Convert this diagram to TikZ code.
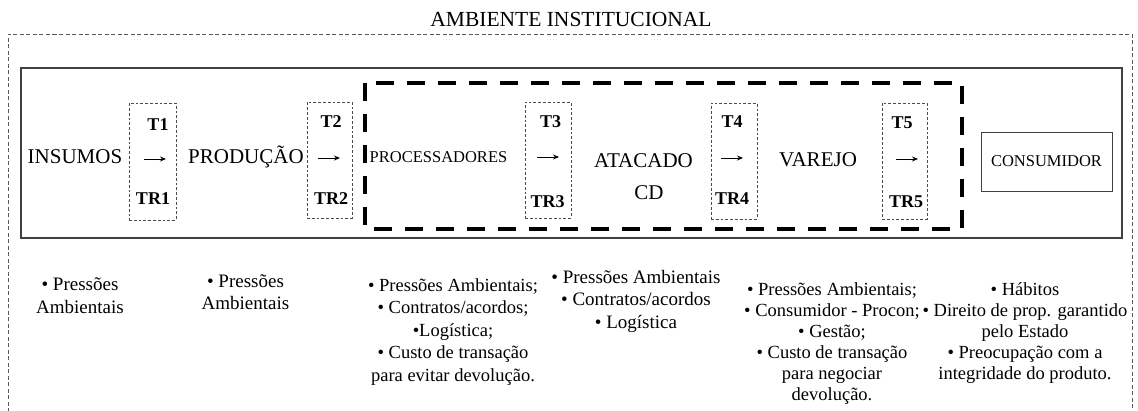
\documentclass[tikz,border=0pt]{standalone}
\usepackage{fontspec}
\setmainfont{Liberation Serif}
\usetikzlibrary{arrows.meta}
\begin{document}
\begin{tikzpicture}[x=1pt,y=-1pt,
  lbl/.style={inner sep=0pt, anchor=base, font=\fontsize{21}{25}\selectfont},
  slbl/.style={inner sep=0pt, anchor=base, font=\fontsize{16.5}{20}\selectfont},
  tlbl/.style={inner sep=0pt, anchor=base, font=\bfseries\fontsize{18}{22}\selectfont},
  tarrow/.style={line width=0.9pt, -{Stealth[length=6pt,width=5pt]}},
  tbox/.style={draw=black!70, dash pattern=on 2.8pt off 2pt, line width=0.8pt, inner sep=0pt},
  note/.style={inner sep=0pt, anchor=base, align=center},
  outerline/.style={draw=black!65, dash pattern=on 4pt off 2.5pt, line width=0.8pt},
  chain/.style={draw=black!75, line width=1.1pt},
  thickdash/.style={draw=black, line width=4pt, dash pattern=on 18pt off 13pt},
]
\useasboundingbox (0,0) rectangle (1138,410);
\fill[white] (0,0) rectangle (1138,410);

% title and institutional environment
\node[lbl, font=\fontsize{21.5}{25}\selectfont] (title) at (571,26) {AMBIENTE INSTITUCIONAL};
\draw[outerline] (8,412) -- (8,34) -- (1132,34) -- (1132,412);

% chain frame
\draw[chain] (21,68) rectangle (1122,238);
% focal segment
\draw[thickdash] (365,83) rectangle (962,229);

% transaction boxes
\node[tbox, minimum width=47pt, minimum height=117pt] (b1) at (152.5,161.5) {};
\node[tbox, minimum width=45pt, minimum height=116pt] (b2) at (329.5,160) {};
\node[tbox, minimum width=46pt, minimum height=116pt] (b3) at (548,160) {};
\node[tbox, minimum width=46pt, minimum height=116pt] (b4) at (734,161) {};
\node[tbox, minimum width=45pt, minimum height=116pt] (b5) at (904.5,161) {};

% stage labels
\node[lbl] (ins) at (75,163) {INSUMOS};
\node[lbl] (prod) at (246,163) {PRODUÇÃO};
\node[slbl] (proc) at (438.5,162) {PROCESSADORES};
\node[lbl] (atac) at (643.5,167) {ATACADO};
\node[lbl] (cd) at (649,199) {CD};
\node[lbl] (var) at (818,166) {VAREJO};
\node[draw=black!75, line width=0.9pt, minimum width=131pt, minimum height=59pt, inner sep=0pt,
      font=\fontsize{16.5}{20}\selectfont] (cons) at (1046.5,161.5) {CONSUMIDOR};

% transaction labels and arrows
\node[tlbl] (t1) at (158,130) {T1};
\node[tlbl] (tr1) at (153,204) {TR1};
\coordinate (a1s) at (144,159); \coordinate (a1e) at (166,159);
\draw[tarrow] (a1s) -- (a1e);
\node[tlbl] (t2) at (331,127) {T2};
\node[tlbl] (tr2) at (331,204) {TR2};
\coordinate (a2s) at (318,158); \coordinate (a2e) at (340,158);
\draw[tarrow] (a2s) -- (a2e);
\node[tlbl] (t3) at (550.5,127) {T3};
\node[tlbl] (tr3) at (547.5,207) {TR3};
\coordinate (a3s) at (537,157); \coordinate (a3e) at (559,157);
\draw[tarrow] (a3s) -- (a3e);
\node[tlbl] (t4) at (732,127) {T4};
\node[tlbl] (tr4) at (732,204) {TR4};
\coordinate (a4s) at (721,158); \coordinate (a4e) at (743,158);
\draw[tarrow] (a4s) -- (a4e);
\node[tlbl] (t5) at (902,128) {T5};
\node[tlbl] (tr5) at (906,207) {TR5};
\coordinate (a5s) at (896,159); \coordinate (a5e) at (918,159);
\draw[tarrow] (a5s) -- (a5e);

% notes (anchor = baseline of last line)
\node[note, font=\fontsize{19}{23}\selectfont] (n1) at (80,313) {• Pressões\\Ambientais};
\node[note, font=\fontsize{19}{22}\selectfont] (n2) at (245.5,309) {• Pressões\\Ambientais};
\node[note, font=\fontsize{18.5}{22.5}\selectfont] (n3) at (453,381) {• Pressões Ambientais;\\• Contratos/acordos;\\•Logística;\\• Custo de transação\\para evitar devolução.};
\node[note, font=\fontsize{19}{22.5}\selectfont] (n4) at (636,328) {• Pressões Ambientais\\• Contratos/acordos\\• Logística};
\node[note, font=\fontsize{18.5}{21}\selectfont] (n5) at (832,400) {• Pressões Ambientais;\\• Consumidor - Procon;\\• Gestão;\\• Custo de transação\\para negociar\\devolução.};
\node[note, font=\fontsize{18.5}{21}\selectfont] (n6) at (1025,379) {• Hábitos\\• Direito de prop. garantido\\pelo Estado\\• Preocupação com a\\integridade do produto.};
\end{tikzpicture}
\end{document}
